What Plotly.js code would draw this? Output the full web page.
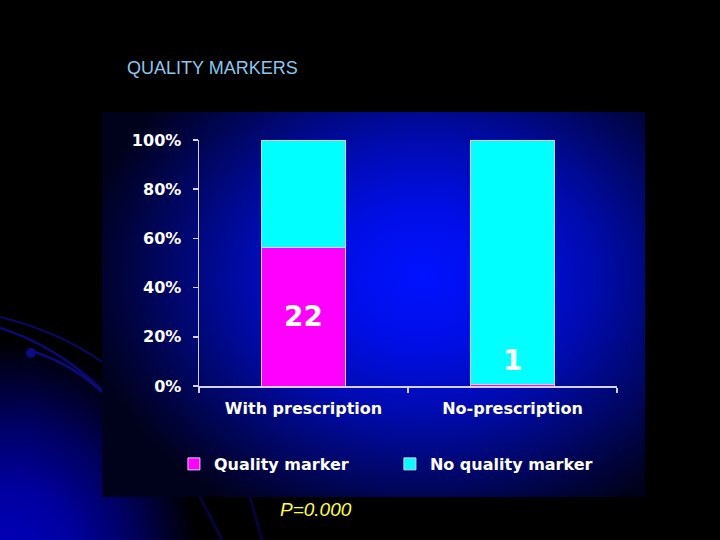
<!DOCTYPE html>
<html>
<head>
<meta charset="utf-8">
<script src="https://cdn.plot.ly/plotly-3.0.1.min.js"></script>
<style>
  html, body { margin:0; padding:0; width:720px; height:540px; overflow:hidden; background:#000; }
  #bg { position:absolute; left:0; top:0; width:720px; height:540px;
        background: radial-gradient(ellipse 190px 230px at 10px 570px, #0000c0 0%, #0000a0 35%, #000060 65%, rgba(0,0,0,0) 100%); }
  #deco { position:absolute; left:0; top:0; }
  #panel { position:absolute; left:102px; top:112px; width:543px; height:385px;
           background: radial-gradient(ellipse 340px 270px at 320px 165px, #0012ff 0%, #000ee6 25%, #000bb0 50%, #00076e 72%, #000338 90%, #00021c 100%); }
  #chart { position:absolute; left:0; top:0; width:720px; height:540px; }
</style>
</head>
<body>
<div id="bg"></div>
<svg id="deco" width="720" height="540">
  <path d="M0,317 Q60,332 102,362" stroke="#09096a" stroke-width="2" fill="none"/>
  <path d="M0,328 Q55,345 102,390" stroke="#0a0a72" stroke-width="2.5" fill="none"/>
  <path d="M35,352 Q75,366 102,392" stroke="#0b0b7a" stroke-width="2.5" fill="none"/>
  <circle cx="31" cy="353" r="5" fill="#0b0b84"/>
  <path d="M200,497 L222,540" stroke="#05053c" stroke-width="3" fill="none"/>
  <path d="M250,497 L262,540" stroke="#05053c" stroke-width="3" fill="none"/>
</svg>
<div id="panel"></div>
<div id="chart"></div>
<script>
const categories = ["With prescription", "No-prescription"];
const qualityPct = [56.4, 0.8];
const noQualityPct = [43.6, 99.2];
const qualityCounts = [22, 1];
const yTickVals = [0, 20, 40, 60, 80, 100];
const yTickText = ["0%", "20%", "40%", "60%", "80%", "100%"];
const seriesNames = ["Quality marker", "No quality marker"];

const FONT = "DejaVu Sans, Verdana, sans-serif";
const lineCol = "#d6d0f0";

const traces = [
  { type: "bar", name: seriesNames[0], x: categories, y: qualityPct,
    marker: { color: "#ff00ff", line: { color: lineCol, width: 1 } }, width: 0.4, hoverinfo: "skip" },
  { type: "bar", name: seriesNames[1], x: categories, y: noQualityPct,
    marker: { color: "#00ffff", line: { color: lineCol, width: 1 } }, width: 0.4, hoverinfo: "skip" }
];

const annotations = categories.map((c, i) => ({
  x: c, y: Math.max(qualityPct[i] / 2, 10.5), xref: "x", yref: "y",
  text: String(qualityCounts[i]), showarrow: false,
  font: { family: FONT, size: 28, color: "#ffffff", weight: "bold" }
}));
annotations.push({
  xref: "paper", yref: "paper", x: 0.19, y: -0.503, xanchor: "left", yanchor: "middle",
  text: "<i>P=0.000</i>", showarrow: false,
  font: { family: "Liberation Sans, Arial, sans-serif", size: 19, color: "#ffff33" }
});

const layout = {
  width: 720, height: 540,
  paper_bgcolor: "rgba(0,0,0,0)", plot_bgcolor: "rgba(0,0,0,0)",
  margin: { l: 199, r: 103, t: 140, b: 154 },
  barmode: "stack",
  showlegend: true,
  title: { text: "QUALITY MARKERS", x: 127/720, xanchor: "left", xref: "container", y: 1 - 68/540, yanchor: "middle", yref: "container",
           font: { family: "Liberation Sans, Arial, sans-serif", size: 18, color: "#8cc6ee" } },
  xaxis: {
    tickson: "boundaries", ticks: "outside", ticklen: 5, tickcolor: lineCol, tickwidth: 1.5,
    showline: true, linecolor: lineCol, linewidth: 1.5, showgrid: false, zeroline: false,
    tickfont: { family: FONT, size: 16, color: "#ffffff", weight: "bold" }, ticklabelstandoff: 7
  },
  yaxis: {
    range: [0, 100], tickvals: yTickVals, ticktext: yTickText,
    ticks: "outside", ticklen: 5, tickcolor: lineCol, tickwidth: 1.5,
    showline: true, linecolor: lineCol, linewidth: 1.5, showgrid: false, zeroline: false,
    tickfont: { family: FONT, size: 16, color: "#ffffff", weight: "bold" }, ticklabelstandoff: 8
  },
  legend: {
    orientation: "h", x: -0.06, xanchor: "left", y: -0.317, yanchor: "middle",
    font: { family: FONT, size: 16, color: "#ffffff", weight: "bold" },
    bgcolor: "rgba(0,0,0,0)", entrywidth: 171, traceorder: "normal"
  },
  annotations: annotations
};

Plotly.newPlot("chart", traces, layout, { staticPlot: true, displayModeBar: false });
</script>
</body>
</html>
